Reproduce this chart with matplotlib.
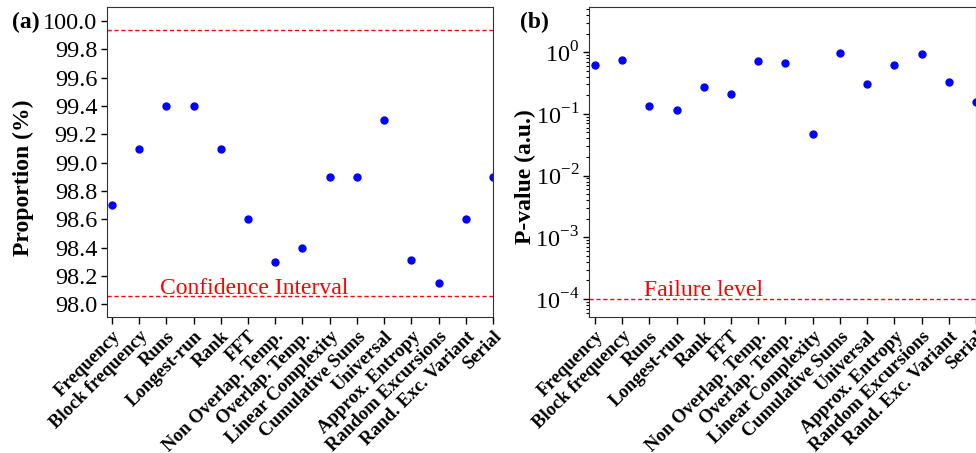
import math
import matplotlib
matplotlib.use("Agg")
import matplotlib.pyplot as plt
from matplotlib.ticker import LogLocator, FuncFormatter, NullFormatter

# NIST test names and results
tests = ["Frequency", "Block frequency", "Runs", "Longest-run", "Rank", "FFT",
         "Non Overlap. Temp.", "Overlap. Temp.", "Linear Complexity",
         "Cumulative Sums", "Universal", "Approx. Entropy",
         "Random Excursions", "Rand. Exc. Variant", "Serial"]
proportion = [98.7, 99.1, 99.4, 99.4, 99.1, 98.6, 98.3, 98.4, 98.9,
              98.9, 99.3, 98.31, 98.15, 98.6, 98.9]
p_values = [0.63, 0.76, 0.133, 0.115, 0.27, 0.21, 0.71, 0.67, 0.047,
            0.96, 0.30, 0.63, 0.93, 0.33, 0.155]
conf_upper = 99.94
conf_lower = 98.06
failure_level = 1e-4

plt.rcParams['font.family'] = 'Liberation Serif'
plt.rcParams['mathtext.fontset'] = 'custom'
plt.rcParams['mathtext.rm'] = 'Liberation Serif'
plt.rcParams['axes.edgecolor'] = '#333333'

fig = plt.figure(figsize=(9.76, 4.53), dpi=100)
ax1 = fig.add_axes([107 / 976, 1 - 317 / 453, 386 / 976, 310 / 453])
ax2 = fig.add_axes([589 / 976, 1 - 317 / 453, 387 / 976, 310 / 453])

x = list(range(len(tests)))

# (a) proportion
ax1.plot(x, proportion, 'o', color='blue', markersize=5)
ax1.axhline(conf_upper, color='red', ls=(0, (3, 2)), lw=1)
ax1.axhline(conf_lower, color='red', ls=(0, (3, 2)), lw=1)
ax1.text(1.75, 98.075, "Confidence Interval", color='red', fontsize=17)
ax1.set_ylim(97.91, 100.1)
ax1.set_xlim(-0.18, 14.0)
ax1.set_yticks([98.0, 98.2, 98.4, 98.6, 98.8, 99.0, 99.2, 99.4, 99.6, 99.8, 100.0])
ax1.set_yticklabels([f"{v:.1f}" for v in ax1.get_yticks()])
ax1.set_ylabel("Proportion (%)", fontsize=17, fontweight='bold')
ax1.yaxis.set_label_coords(-0.19, 0.45)

# (b) p-value, log scale
ax2.plot(x, p_values, 'o', color='blue', markersize=5)
ax2.axhline(failure_level, color='red', ls=(0, (3, 2)), lw=1)
ax2.set_yscale('log')
ax2.set_ylim(5.1e-5, 5.4)
ax2.set_xlim(-0.22, 14.0)
ax2.text(1.8, 1.12e-4, "Failure level", color='red', fontsize=17)
ax2.yaxis.set_major_locator(LogLocator(base=10, numticks=10))
ax2.yaxis.set_minor_locator(LogLocator(base=10, subs=range(2, 10), numticks=10))
ax2.yaxis.set_minor_formatter(NullFormatter())
ax2.yaxis.set_major_formatter(FuncFormatter(lambda v, pos: r"10$^{%d}$" % round(math.log10(v))))
ax2.set_ylabel("P-value (a.u.)", fontsize=17, fontweight='bold')
ax2.yaxis.set_label_coords(-0.137, 0.453)

for ax in (ax1, ax2):
    ax.set_xticks(x)
    ax.set_xticklabels(tests, rotation=45, ha='right', rotation_mode='anchor',
                       fontsize=13.5, fontweight='bold')
    ax.tick_params(axis='y', labelsize=17.5, direction='out', length=4, width=1, pad=3)
    ax.tick_params(axis='y', which='minor', direction='out', length=2.5, width=0.8)
    ax.tick_params(axis='x', direction='out', length=5, width=1, pad=3)

fig.text(12 / 976, 1 - 22 / 453, "(a)", fontsize=17, fontweight='bold', va='center')
fig.text(520 / 976, 1 - 22 / 453, "(b)", fontsize=17, fontweight='bold', va='center')

fig.savefig("out.png", dpi=100)
